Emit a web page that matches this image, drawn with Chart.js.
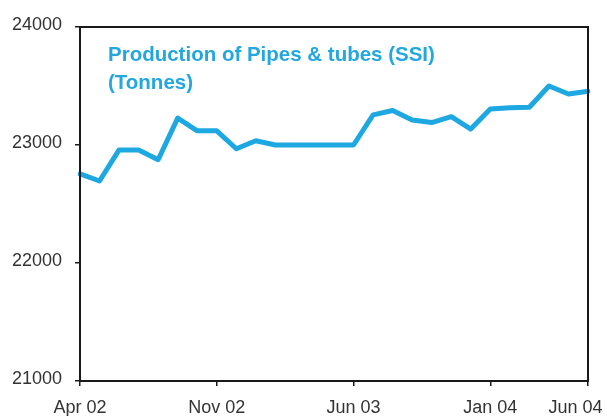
<!DOCTYPE html>
<html>
<head>
<meta charset="utf-8">
<script src="https://cdn.jsdelivr.net/npm/chart.js@4.4.1/dist/chart.umd.min.js"></script>
<style>
  body { margin: 0; background: #fff; }
  .wrap { position: relative; width: 607px; height: 416px; }
  .title {
    position: absolute;
    left: 108px;
    top: 40px;
    font: bold 20.5px 'Liberation Sans', Arial, sans-serif;
    line-height: 28px;
    color: #22a7e0;
    white-space: nowrap;
  }
</style>
</head>
<body>
<div class="wrap">
  <canvas id="pipesChart" width="607" height="416"></canvas>
  <div class="title">Production of Pipes &amp; tubes (SSI)<br>(Tonnes)</div>
</div>
<script>
const months = [
  'Apr 02', 'May 02', 'Jun 02', 'Jul 02', 'Aug 02', 'Sep 02', 'Oct 02', 'Nov 02', 'Dec 02',
  'Jan 03', 'Feb 03', 'Mar 03', 'Apr 03', 'May 03', 'Jun 03', 'Jul 03', 'Aug 03', 'Sep 03',
  'Oct 03', 'Nov 03', 'Dec 03', 'Jan 04', 'Feb 04', 'Mar 04', 'Apr 04', 'May 04', 'Jun 04',
];

const production = [
  22755, 22695, 22958, 22958, 22875, 23228, 23120, 23120, 22968,
  23036, 23000, 23000, 23000, 23000, 23000, 23255, 23292, 23212,
  23190, 23240, 23135, 23305, 23316, 23320, 23500, 23432, 23455,
];

const shownMonths = ['Apr 02', 'Nov 02', 'Jun 03', 'Jan 04', 'Jun 04'];
const yTicks = [21000, 22000, 23000, 24000];

const lineBlue = '#1ea8e2';
const axisInk = '#1a1a1a';
const labelInk = '#333333';

const frame = {
  id: 'frame',
  afterDraw(chart) {
    const { ctx, chartArea: a } = chart;
    ctx.save();
    ctx.strokeStyle = axisInk;
    ctx.lineWidth = 2;
    ctx.strokeRect(a.left, a.top, a.right - a.left, a.bottom - a.top);
    ctx.restore();
  },
};

new Chart(document.getElementById('pipesChart'), {
  type: 'line',
  data: {
    labels: months,
    datasets: [
      {
        data: production,
        borderColor: lineBlue,
        borderWidth: 5,
        borderJoinStyle: 'round',
        borderCapStyle: 'round',
        pointRadius: 0,
        tension: 0,
        fill: false,
      },
    ],
  },
  options: {
    responsive: false,
    animation: false,
    layout: {
      padding: { top: 27, right: 19, bottom: 0, left: 0 },
    },
    scales: {
      x: {
        type: 'category',
        offset: false,
        afterBuildTicks: (scale) => {
          scale.ticks = scale.ticks.filter((t) => shownMonths.includes(months[t.value]));
        },
        afterFit: (scale) => {
          scale.height = 35;
          scale.paddingLeft = 0;
          scale.paddingRight = 0;
        },
        ticks: {
          autoSkip: false,
          maxRotation: 0,
          padding: 11,
          color: labelInk,
          font: { family: "'Liberation Sans', Arial, sans-serif", size: 18 },
          callback(value) {
            const label = this.getLabelForValue(value);
            return value === months.length - 1 ? `${label}     ` : label;
          },
        },
        grid: {
          drawOnChartArea: false,
          drawTicks: true,
          tickLength: 5,
          color: axisInk,
          lineWidth: 1.5,
        },
        border: { display: false },
      },
      y: {
        min: yTicks[0],
        max: yTicks[yTicks.length - 1],
        afterBuildTicks: (scale) => {
          scale.ticks = yTicks.map((value) => ({ value }));
        },
        afterFit: (scale) => {
          scale.width = 80;
        },
        ticks: {
          padding: 13,
          labelOffset: -2,
          color: labelInk,
          font: { family: "'Liberation Sans', Arial, sans-serif", size: 18 },
          callback: (value) => `${value}`,
        },
        grid: {
          drawOnChartArea: false,
          drawTicks: true,
          tickLength: 5,
          color: axisInk,
          lineWidth: 1.5,
        },
        border: { display: false },
      },
    },
    plugins: {
      legend: { display: false },
      tooltip: { enabled: false },
    },
  },
  plugins: [frame],
});
</script>
</body>
</html>
